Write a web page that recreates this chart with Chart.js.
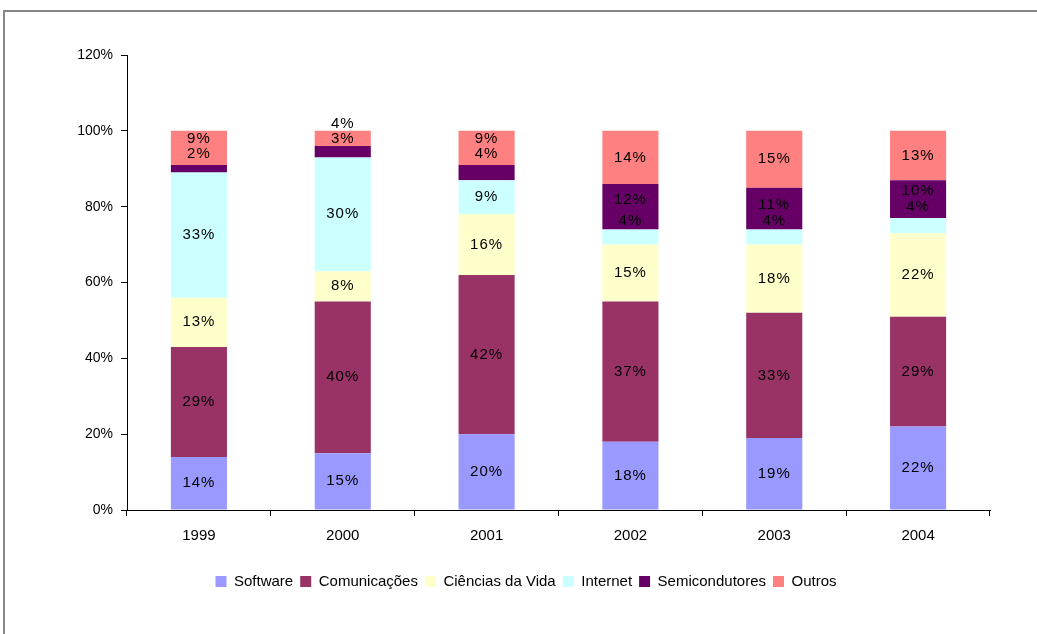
<!DOCTYPE html>
<html>
<head>
<meta charset="utf-8">
<script src="https://cdn.jsdelivr.net/npm/chart.js@4/dist/chart.umd.min.js"></script>
<style>
  html, body { margin: 0; padding: 0; background: #fff; overflow: hidden; }
  .frame { position: absolute; left: 3px; top: 10px; width: 2000px; height: 2000px; border: 2px solid #878787; }
  .wrap { position: absolute; left: 0; top: 0; width: 1037px; height: 634px; }
</style>
</head>
<body>
<div class="frame"></div>
<div class="wrap"><canvas id="chart"></canvas></div>
<script>
// chart data (percent of total per year)
const years = ['1999', '2000', '2001', '2002', '2003', '2004'];
const software       = [14, 15, 20, 18, 19, 22];
const comunicacoes   = [29, 40, 42, 37, 33, 29];
const cienciasVida   = [13, 8, 16, 15, 18, 22];
const internet       = [33, 30, 9, 4, 4, 4];
const semicondutores = [2, 3, 4, 12, 11, 10];
const outros         = [9, 4, 9, 14, 15, 13];
const yTicks = [0, 20, 40, 60, 80, 100, 120];

// labels that were moved by hand in the original: "dataset:index" -> px up/down
const labelShift = {
    '5:0': -9, '4:0': -15,
    '5:1': -15, '4:1': -13,
    '5:2': -9, '4:2': -19,
    '4:3': -7, '3:3': -16,
    '4:4': -4, '3:4': -16,
    '4:5': -8, '3:5': -19
};

const FONT = "'Liberation Sans', Arial, sans-serif";

const segmentLabels = {
    id: 'segmentLabels',
    afterDatasetsDraw(chart) {
        const ctx = chart.ctx;
        ctx.save();
        ctx.font = '15px ' + FONT;
        ctx.letterSpacing = '1px';
        ctx.fillStyle = '#000';
        ctx.textAlign = 'center';
        ctx.textBaseline = 'middle';
        chart.data.datasets.forEach((ds, di) => {
            const meta = chart.getDatasetMeta(di);
            meta.data.forEach((bar, i) => {
                const dy = labelShift[di + ':' + i] || 0;
                const y = (bar.y + bar.base) / 2 + dy;
                ctx.fillText(ds.data[i] + '%', bar.x, y);
            });
        });
        ctx.restore();
    }
};

function series(label, data, color) {
    return {
        label: label,
        data: data,
        backgroundColor: color,
        borderWidth: 0,
        categoryPercentage: 1,
        barPercentage: 0.39
    };
}

new Chart(document.getElementById('chart'), {
    type: 'bar',
    data: {
        labels: years,
        datasets: [
            series('Software', software, '#9999FF'),
            series('Comunicações', comunicacoes, '#993366'),
            series('Ciências da Vida', cienciasVida, '#FFFFCC'),
            series('Internet', internet, '#CCFFFF'),
            series('Semicondutores', semicondutores, '#660066'),
            series('Outros', outros, '#FF8080')
        ]
    },
    options: {
        responsive: true,
        maintainAspectRatio: false,
        animation: false,
        layout: {
            padding: { top: 55, left: 62, right: 47, bottom: 35 }
        },
        plugins: {
            legend: {
                position: 'bottom',
                labels: {
                    color: '#000',
                    font: { family: FONT, size: 15 },
                    boxWidth: 11,
                    boxHeight: 11,
                    padding: 7
                }
            },
            tooltip: { enabled: false }
        },
        scales: {
            x: {
                stacked: true,
                offset: true,
                afterFit: (s) => { s.height = 57; },
                grid: {
                    offset: true,
                    drawOnChartArea: false,
                    drawTicks: true,
                    tickLength: 6,
                    color: '#000'
                },
                border: { display: true, color: '#000', width: 1 },
                ticks: {
                    color: '#000',
                    padding: 11,
                    font: { family: FONT, size: 15 }
                }
            },
            y: {
                stacked: true,
                min: 0,
                max: 120,
                afterFit: (s) => { s.width = 65; },
                afterBuildTicks: (s) => { s.ticks = yTicks.map(v => ({ value: v })); },
                grid: {
                    drawOnChartArea: false,
                    drawTicks: true,
                    tickLength: 6,
                    color: '#000'
                },
                border: { display: true, color: '#000', width: 1 },
                ticks: {
                    color: '#000',
                    padding: 8,
                    font: { family: FONT, size: 14 },
                    callback: (v) => v + '%'
                }
            }
        }
    },
    plugins: [segmentLabels]
});
</script>
</body>
</html>
